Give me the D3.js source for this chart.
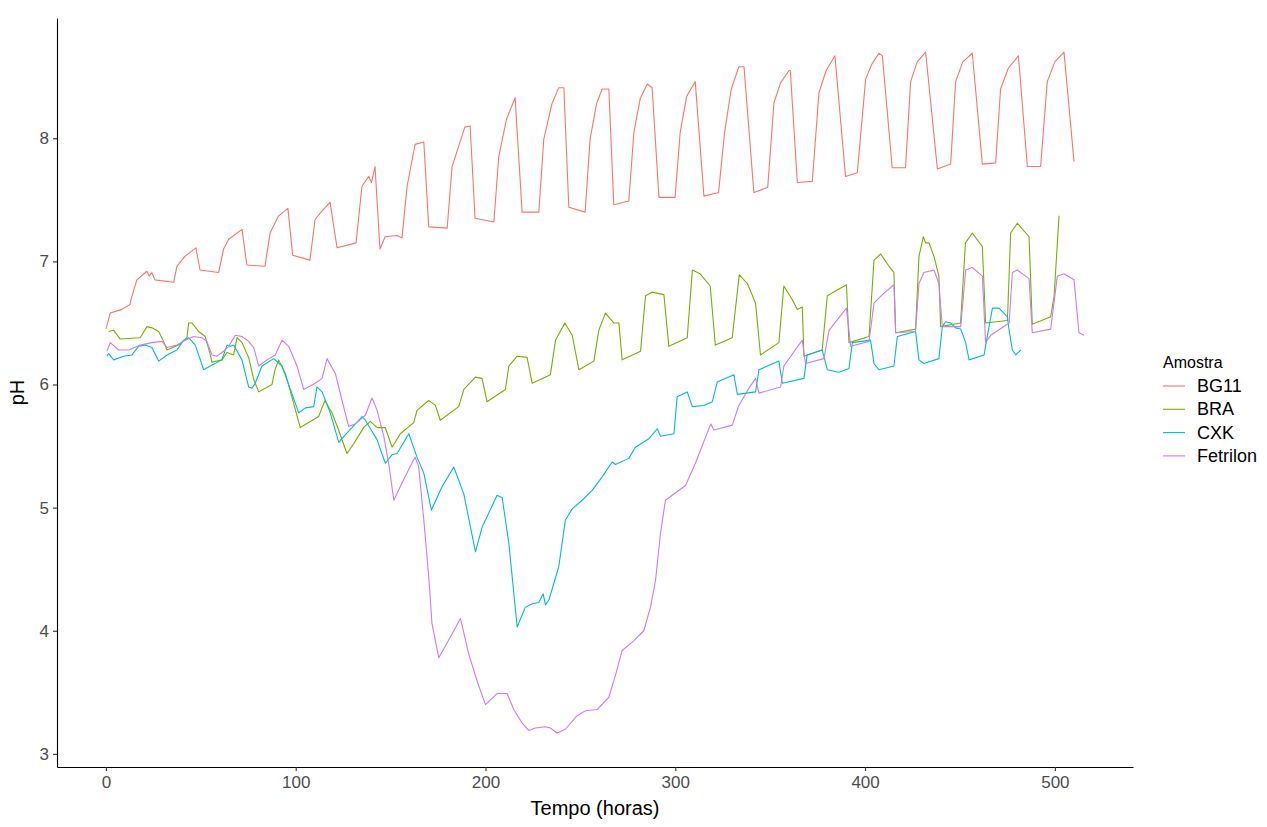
<!DOCTYPE html>
<html>
<head>
<meta charset="utf-8">
<script src="https://cdn.jsdelivr.net/npm/d3@7"></script>
<style>
  body { margin: 0; background: #fff; }
  svg { display: block; font-family: Arial, "Liberation Sans", sans-serif; }
</style>
</head>
<body>
<div id="chart"></div>
<script>
// 1) Data: [tempo (horas), pH]
const bg11 = [
  [0,6.45],[2.3,6.58],[8.4,6.61],[12.7,6.65],[13.2,6.69],[16.3,6.85],[21.6,6.92],[22.8,6.88],[24.2,6.91],[25.8,6.85],
  [35.7,6.83],[37.4,6.96],[41.6,7.04],[47.4,7.11],[49.6,6.93],[59.4,6.91],[62.0,7.10],[64.7,7.18],[71.7,7.26],[74.3,6.97],
  [83.8,6.96],[86.5,7.23],[91.0,7.37],[95.9,7.43],[98.4,7.05],[107.5,7.01],[110.2,7.34],[113.9,7.41],[118.1,7.48],[121.8,7.11],
  [131.8,7.15],[134.9,7.61],[138.5,7.69],[139.9,7.64],[141.8,7.77],[144.4,7.10],[147.1,7.20],[153.4,7.21],[156.0,7.19],[158.7,7.61],
  [162.9,7.95],[167.5,7.97],[170.1,7.28],[179.8,7.27],[182.4,7.77],[189.1,8.09],[191.9,8.10],[194.5,7.35],[204.4,7.32],[207.0,7.85],
  [211.0,8.15],[215.6,8.33],[219.3,7.40],[228.1,7.40],[230.7,7.99],[235.0,8.28],[238.6,8.41],[241.3,8.41],[243.9,7.44],[252.5,7.40],
  [255.1,7.99],[258.5,8.28],[261.5,8.40],[265.0,8.40],[267.6,7.46],[275.5,7.49],[278.2,8.05],[281.5,8.32],[285.2,8.44],[287.8,8.41],
  [291.4,7.52],[299.9,7.52],[302.6,8.05],[306.0,8.34],[310.5,8.46],[315.1,7.53],[322.8,7.56],[326.0,8.05],[329.5,8.40],[333.5,8.58],
  [336.2,8.58],[341.4,7.56],[348.7,7.60],[352.0,8.29],[355.5,8.45],[359.9,8.55],[360.6,8.55],[364.3,7.64],[372.2,7.65],[375.7,8.37],
  [379.5,8.55],[384.1,8.67],[389.7,7.69],[395.9,7.72],[400.3,8.48],[403.5,8.60],[407.3,8.69],[409.1,8.67],[414.3,7.76],[421.3,7.76],
  [424.0,8.46],[427.5,8.62],[431.9,8.70],[438.1,7.75],[445.1,7.79],[447.7,8.46],[451.5,8.62],[456.5,8.69],[461.8,7.79],[468.8,7.80],
  [471.4,8.40],[475.5,8.57],[480.8,8.67],[485.5,7.77],[492.5,7.77],[496.0,8.46],[500.0,8.62],[504.8,8.70],[510.1,7.81]
];
const bra = [
  [1.4,6.43],[4.1,6.44],[7.5,6.37],[18.1,6.38],[21.6,6.47],[24.2,6.46],[27.8,6.43],[30.4,6.35],[32.2,6.28],[38.3,6.32],
  [42.7,6.38],[43.6,6.50],[45.3,6.50],[48.9,6.43],[52.3,6.39],[55.0,6.24],[55.9,6.18],[61.1,6.20],[63.8,6.26],[67.3,6.24],
  [69.1,6.38],[71.7,6.34],[75.2,6.22],[77.9,6.04],[80.5,5.94],[87.5,6.00],[89.1,6.12],[91.0,6.20],[94.5,6.09],[98.0,5.90],
  [102.4,5.65],[112.1,5.74],[115.4,5.87],[119.1,5.77],[122.6,5.63],[127.0,5.44],[130.6,5.52],[135.8,5.65],[139.3,5.70],[142.9,5.65],
  [147.2,5.65],[150.8,5.49],[155.1,5.60],[162.2,5.69],[163.9,5.79],[170.1,5.87],[173.6,5.83],[176.2,5.71],[185.9,5.82],[188.6,5.96],
  [194.7,6.06],[198.2,6.05],[200.8,5.86],[210.5,5.96],[212.3,6.15],[216.7,6.23],[221.9,6.22],[224.6,6.01],[234.2,6.08],[236.9,6.36],
  [241.8,6.50],[245.7,6.40],[249.2,6.12],[257.1,6.19],[259.7,6.44],[263.2,6.58],[267.6,6.50],[270.3,6.50],[272.0,6.20],[281.7,6.27],
  [284.3,6.72],[287.8,6.75],[294.0,6.73],[296.6,6.31],[306.3,6.38],[309.0,6.93],[313.0,6.90],[318.4,6.80],[321.1,6.32],[330.0,6.38],
  [333.7,6.89],[338.0,6.82],[342.3,6.66],[344.9,6.24],[354.6,6.34],[357.2,6.80],[361.6,6.69],[364.3,6.61],[366.9,6.63],[367.8,6.23],
  [377.4,6.28],[380.1,6.72],[390.2,6.81],[391.5,6.34],[402.1,6.39],[404.7,7.01],[408.2,7.06],[412.6,6.96],[415.2,6.91],[416.1,6.42],
  [426.6,6.45],[428.4,7.04],[430.7,7.20],[431.9,7.15],[433.7,7.15],[436.3,7.04],[438.9,6.88],[439.8,6.47],[450.3,6.50],[452.9,7.15],
  [456.5,7.23],[461.8,7.12],[463.5,6.50],[475.0,6.52],[476.7,7.23],[480.2,7.31],[486.4,7.20],[488.1,6.49],[497.8,6.55],[499.6,6.72],
  [502.2,7.37]
];
const cxk = [
  [0.5,6.23],[1.4,6.25],[4.1,6.20],[9.3,6.23],[13.7,6.24],[17.2,6.31],[20.7,6.32],[24.2,6.30],[27.8,6.19],[32.2,6.24],
  [37.4,6.28],[41.0,6.36],[43.6,6.38],[47.1,6.32],[51.5,6.12],[55.0,6.15],[61.1,6.20],[63.8,6.32],[65.5,6.31],[67.3,6.32],
  [71.7,6.20],[75.2,5.98],[77.0,5.97],[78.7,6.01],[82.2,6.15],[88.4,6.21],[92.8,6.15],[97.2,5.96],[101.6,5.77],[105.1,5.81],
  [109.5,5.82],[111.2,5.98],[113.9,5.94],[118.2,5.77],[122.7,5.53],[126.1,5.59],[135.0,5.74],[136.7,5.71],[142.9,5.55],[147.2,5.36],
  [150.8,5.43],[153.4,5.44],[159.6,5.60],[163.9,5.41],[167.5,5.28],[171.5,4.98],[177.1,5.17],[183.3,5.33],[188.6,5.11],[194.7,4.64],
  [198.2,4.84],[206.1,5.10],[208.8,5.08],[212.3,4.71],[216.7,4.03],[221.0,4.19],[224.6,4.22],[228.1,4.23],[230.4,4.30],[231.6,4.21],
  [233.4,4.25],[238.6,4.52],[242.1,4.90],[245.7,4.99],[250.9,5.06],[256.2,5.14],[261.5,5.25],[266.7,5.37],[268.5,5.35],[275.5,5.40],
  [279.0,5.49],[286.1,5.56],[290.5,5.64],[292.2,5.58],[299.3,5.60],[301.0,5.90],[306.3,5.94],[309.0,5.82],[315.1,5.83],[319.5,5.86],
  [322.1,6.02],[330.9,6.08],[332.7,5.92],[342.3,5.94],[344.1,6.12],[354.6,6.19],[356.4,6.01],[367.8,6.05],[369.5,6.24],[377.4,6.28],
  [380.1,6.12],[386.2,6.10],[391.5,6.13],[393.3,6.34],[402.9,6.36],[404.7,6.17],[407.3,6.12],[415.2,6.15],[417.0,6.39],[426.6,6.43],
  [428.4,6.20],[431.0,6.17],[438.9,6.21],[440.7,6.47],[442.4,6.51],[445.1,6.50],[447.7,6.46],[450.4,6.45],[453.0,6.34],[454.8,6.20],
  [462.7,6.24],[465.3,6.47],[467.1,6.62],[470.6,6.62],[475.0,6.55],[475.9,6.44],[477.6,6.28],[479.4,6.24],[482.0,6.28]
];
const fetrilon = [
  [0.5,6.27],[2.3,6.34],[6.7,6.28],[12.0,6.28],[18.1,6.32],[24.2,6.34],[29.5,6.35],[32.2,6.30],[37.4,6.32],[41.8,6.36],
  [46.2,6.39],[50.6,6.38],[53.2,6.35],[55.9,6.24],[58.5,6.23],[62.0,6.27],[64.7,6.31],[68.2,6.40],[71.7,6.39],[75.2,6.35],
  [77.9,6.30],[80.5,6.15],[84.9,6.20],[89.2,6.24],[92.8,6.36],[96.3,6.31],[100.7,6.15],[104.2,5.96],[110.3,6.01],[113.9,6.05],
  [116.5,6.21],[120.9,6.09],[124.4,5.87],[127.9,5.66],[131.4,5.68],[136.7,5.75],[140.2,5.89],[142.9,5.79],[146.4,5.58],[149.0,5.36],
  [151.7,5.06],[156.0,5.20],[162.2,5.39],[163.0,5.41],[164.8,5.33],[167.5,4.90],[170.1,4.44],[171.8,4.06],[175.4,3.78],[181.5,3.95],
  [186.8,4.10],[191.2,3.81],[195.6,3.59],[200.0,3.40],[206.1,3.49],[211.4,3.49],[214.9,3.36],[219.3,3.25],[222.8,3.19],[226.3,3.21],
  [231.6,3.22],[234.2,3.21],[237.7,3.17],[242.1,3.20],[248.3,3.31],[252.7,3.35],[258.8,3.36],[265.0,3.46],[268.5,3.64],[272.0,3.84],
  [278.2,3.92],[283.4,4.00],[286.9,4.19],[289.6,4.41],[292.2,4.79],[294.8,5.06],[297.5,5.09],[305.4,5.18],[310.6,5.36],[318.7,5.68],
  [320.4,5.63],[330.0,5.67],[333.5,5.83],[338.8,5.97],[342.3,6.05],[344.1,5.93],[355.5,5.98],[357.2,6.15],[366.9,6.36],[368.6,6.17],
  [378.3,6.21],[381.0,6.44],[390.2,6.62],[392.4,6.31],[402.1,6.35],[404.7,6.66],[409.1,6.73],[415.2,6.81],[416.1,6.42],[426.6,6.43],
  [428.4,6.82],[431.0,6.91],[436.3,6.93],[438.9,6.82],[440.7,6.47],[450.4,6.47],[453.0,6.93],[456.5,6.95],[461.8,6.88],[463.5,6.34],
  [466.2,6.40],[475.9,6.50],[477.6,6.91],[480.2,6.93],[486.4,6.86],[488.1,6.42],[497.8,6.45],[501.3,6.88],[504.8,6.90],[510.1,6.85],
  [512.7,6.42],[515.4,6.40]
];
const seriesNames = ["BG11", "BRA", "CXK", "Fetrilon"];
const seriesData = [bg11, bra, cxk, fetrilon];
const xTicks = [0, 100, 200, 300, 400, 500];
const yTicks = [3, 4, 5, 6, 7, 8];

const W = 1267, H = 827;
const panel = {left: 57, right: 1133, top: 18, bottom: 767};

const color = d3.scaleOrdinal()
  .domain(seriesNames)
  .range(["#F8766D", "#7CAE00", "#00BFC4", "#C77CFF"]);

// ggplot-like 5% expansion
const all = seriesData.flat();
const xExt = d3.extent(all, d => d[0]);
const yExt = d3.extent(all, d => d[1]);
const xPad = (xExt[1] - xExt[0]) * 0.05, yPad = (yExt[1] - yExt[0]) * 0.05;

const x = d3.scaleLinear().domain([xExt[0] - xPad, xExt[1] + xPad]).range([panel.left, panel.right]);
const y = d3.scaleLinear().domain([yExt[0] - yPad, yExt[1] + yPad]).range([panel.bottom, panel.top]);

const svg = d3.select('#chart').append('svg')
  .attr('width', W).attr('height', H);

// 2) Lines
const line = d3.line().x(d => x(d[0])).y(d => y(d[1]));
svg.append('g').selectAll('path')
  .data(seriesNames)
  .enter().append('path')
    .attr('d', (d, i) => line(seriesData[i]))
    .attr('fill', 'none')
    .attr('stroke', d => color(d))
    .attr('stroke-width', 1.1)
    .attr('stroke-linejoin', 'round');

// 3) Axes
const xAxis = svg.append('g')
  .attr('transform', `translate(0,${panel.bottom})`)
  .call(d3.axisBottom(x).tickValues(xTicks).tickFormat(d3.format('d'))
    .tickSizeInner(4).tickSizeOuter(0).tickPadding(5));
const yAxis = svg.append('g')
  .attr('transform', `translate(${panel.left},0)`)
  .call(d3.axisLeft(y).tickValues(yTicks).tickFormat(d3.format('d'))
    .tickSizeInner(4).tickSizeOuter(0).tickPadding(4));

[xAxis, yAxis].forEach(g => {
  g.select('.domain').attr('stroke', '#000').attr('stroke-width', 1.1);
  g.selectAll('.tick line').attr('stroke', '#333').attr('stroke-width', 1.1);
  g.selectAll('.tick text').attr('fill', '#4D4D4D').style('font-size', '17px')
    .style('font-family', 'Arial, "Liberation Sans", sans-serif');
});

svg.append('text')
  .attr('x', (panel.left + panel.right) / 2).attr('y', 815)
  .attr('text-anchor', 'middle').style('font-size', '20px').attr('fill', '#000')
  .text('Tempo (horas)');
svg.append('text')
  .attr('transform', `translate(24,${(panel.top + panel.bottom) / 2}) rotate(-90)`)
  .attr('text-anchor', 'middle').style('font-size', '20px').attr('fill', '#000')
  .text('pH');

// 4) Legend (vertically centred on the plot, like ggplot)
const legend = svg.append('g').attr('transform', 'translate(1163,0)');
legend.append('text').attr('x', 0).attr('y', 368)
  .style('font-size', '16px').attr('fill', '#000').text('Amostra');
const items = legend.selectAll('g.item')
  .data(seriesNames)
  .enter().append('g').attr('class', 'item')
    .attr('transform', (d, i) => `translate(0,${386 + i * 23.3})`);
items.append('line')
  .attr('x1', 0).attr('x2', 22).attr('y1', 0).attr('y2', 0)
  .attr('stroke', d => color(d)).attr('stroke-width', 1.1);
items.append('text')
  .attr('x', 34).attr('y', 6)
  .style('font-size', '18px').attr('fill', '#000')
  .text(d => d);
</script>
</body>
</html>
